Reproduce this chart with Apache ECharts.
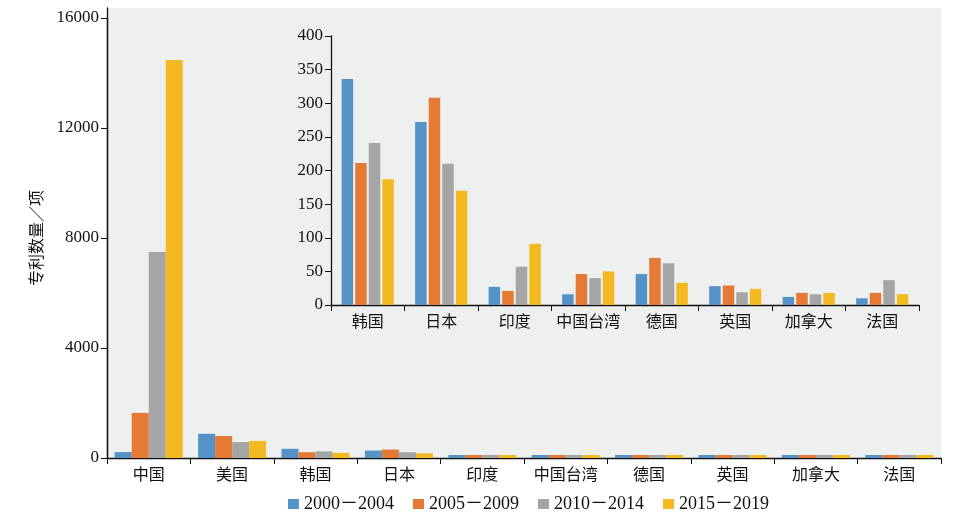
<!DOCTYPE html>
<html><head><meta charset="utf-8">
<script src="https://cdn.jsdelivr.net/npm/echarts@6/dist/echarts.min.js"></script>
<style>html,body{margin:0;padding:0;background:#fff}#c{width:964px;height:523px}</style>
</head><body><div id="c"></div>
<script>
const mainCategories = ['中国','美国','韩国','日本','印度','中国台湾','德国','英国','加拿大','法国'];
const insetCategories = ['韩国','日本','印度','中国台湾','德国','英国','加拿大','法国'];
const seriesNames = ['2000－2004','2005－2009','2010－2014','2015－2019'];
const mainP1 = [215, 880, 336, 272, 27, 16, 46, 28, 12, 10];
const mainP2 = [1640, 800, 211, 308, 21, 46, 70, 29, 18, 18];
const mainP3 = [7490, 580, 241, 210, 57, 40, 62, 19, 16, 37];
const mainP4 = [14470, 620, 187, 170, 91, 50, 33, 24, 18, 16];
const insetP1 = [336, 272, 27, 16, 46, 28, 12, 10];
const insetP2 = [211, 308, 21, 46, 70, 29, 18, 18];
const insetP3 = [241, 210, 57, 40, 62, 19, 16, 37];
const insetP4 = [187, 170, 91, 50, 33, 24, 18, 16];
const mainTicks = [0, 4000, 8000, 12000, 16000];
const insetTicks = [0, 50, 100, 150, 200, 250, 300, 350, 400];
const colors = ['#5592c8','#e47a35','#a5a5a5','#f2b920'];

const serif = '"Liberation Serif", "Noto Sans CJK SC", serif';
const txt = {color:'#111', fontFamily: serif, fontSize: 16};
const num = {color:'#111', fontFamily: serif, fontSize: 17};
const axisLineStyle = {lineStyle:{color:'#111', width:1.3}};

const chart = echarts.init(document.getElementById('c'));
const mainData = [mainP1, mainP2, mainP3, mainP4];
const insetData = [insetP1, insetP2, insetP3, insetP4];
const series = [];
seriesNames.forEach((n,i)=>{
  series.push({name:n, type:'bar', xAxisIndex:1, yAxisIndex:1, data: mainData[i],
    itemStyle:{color:colors[i]}, barWidth:17, barGap:'0%', barMinHeight:3, animation:false});
});
seriesNames.forEach((n,i)=>{
  series.push({name:n, type:'bar', xAxisIndex:2, yAxisIndex:2, data: insetData[i],
    itemStyle:{color:colors[i]}, barWidth:11.5, barGap:'18%', animation:false});
});
const plain = v => String(v);
chart.setOption({
  animation:false,
  color: colors,
  grid:[
    {left:107, right:23, top:8, bottom:65, show:true, backgroundColor:'#eef0ef', borderWidth:0},
    {left:107, right:23, top:18, bottom:65},
    {left:331, right:45, top:36, bottom:218}
  ],
  legend:{
    bottom:5, left:283, itemWidth:11, itemHeight:10, itemGap:19,
    icon:'rect', textStyle:{...num, fontSize:18},
    data: seriesNames
  },
  xAxis:[
    {gridIndex:0, type:'category', data:[''], show:false},
    {gridIndex:1, type:'category', data: mainCategories,
      axisLine:axisLineStyle, axisTick:{show:true, length:6, lineStyle:{color:'#111'}},
      axisLabel:{...txt, margin:10, interval:0}},
    {gridIndex:2, type:'category', data: insetCategories,
      axisLine:axisLineStyle, axisTick:{show:true, length:6, lineStyle:{color:'#111'}},
      axisLabel:{...txt, margin:10, interval:0}}
  ],
  yAxis:[
    {gridIndex:0, type:'value', min:0, max:1, axisLine:{show:true, ...axisLineStyle},
      axisTick:{show:false}, axisLabel:{show:false}, splitLine:{show:false}},
    {gridIndex:1, type:'value', min:mainTicks[0], max:mainTicks[mainTicks.length-1], interval:4000,
      name:'专利数量／项', nameLocation:'middle', nameGap:49, nameRotate:90,
      nameTextStyle:{...txt, fontSize:16},
      axisLine:{show:true, ...axisLineStyle}, axisTick:{show:true, length:6, lineStyle:{color:'#111'}},
      axisLabel:{...num, margin:8, formatter:plain}, splitLine:{show:false}},
    {gridIndex:2, type:'value', min:insetTicks[0], max:insetTicks[insetTicks.length-1], interval:50,
      axisLine:{show:true, ...axisLineStyle}, axisTick:{show:true, length:6, lineStyle:{color:'#111'}},
      axisLabel:{...num, margin:8, formatter:plain}, splitLine:{show:false}}
  ],
  series
});
</script></body></html>
